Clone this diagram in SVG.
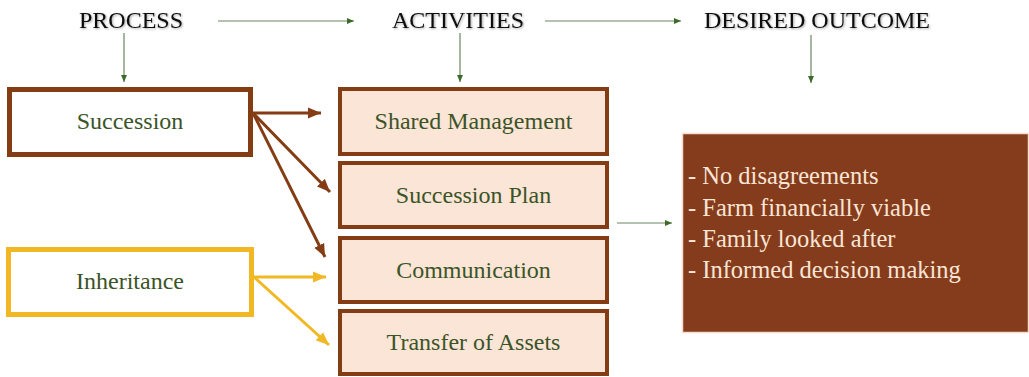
<svg xmlns="http://www.w3.org/2000/svg" width="1029" height="377" viewBox="0 0 1029 377">
<style>
.hdr{font-family:"Liberation Serif",serif;font-size:24px;fill:#111;text-anchor:middle}
.lbl{font-family:"Liberation Serif",serif;font-size:24px;fill:#3b5427;text-anchor:middle}
.out{font-family:"Liberation Serif",serif;font-size:24.5px;fill:#fbe5d6}
.proc{fill:#fff;stroke-width:5}
.act{fill:#fbe5d6;stroke:#843c14;stroke-width:4}
.g{stroke:#6d8560;stroke-width:1.2;fill:none}
.b{stroke:#843c14;stroke-width:3;fill:none}
.y{stroke:#f2b824;stroke-width:3;fill:none}
</style>
<defs>
<filter id="sh" x="-10%" y="-30%" width="120%" height="160%"><feDropShadow dx="1" dy="1" stdDeviation="1" flood-color="#000" flood-opacity="0.35"/></filter>
<marker id="mg" markerWidth="8" markerHeight="8" refX="7" refY="4" orient="auto" markerUnits="userSpaceOnUse"><path d="M0,1 L7,4 L0,7 Z" fill="#3d6b2a"/></marker>
<marker id="mb" markerWidth="14" markerHeight="12" refX="13" refY="6" orient="auto" markerUnits="userSpaceOnUse"><path d="M0,0.5 L13,6 L0,11.5 Z" fill="#843c14"/></marker>
<marker id="my" markerWidth="14" markerHeight="12" refX="13" refY="6" orient="auto" markerUnits="userSpaceOnUse"><path d="M0,0.5 L13,6 L0,11.5 Z" fill="#f2b824"/></marker>
</defs>
<g id="headers">
<text class="hdr" x="131" y="28" filter="url(#sh)">PROCESS</text>
<text class="hdr" x="458" y="28" filter="url(#sh)">ACTIVITIES</text>
<text class="hdr" x="817" y="28" filter="url(#sh)">DESIRED OUTCOME</text>
</g>
<g id="succession">
<rect class="proc" x="9.5" y="89.5" width="241" height="65" stroke="#843c14"/>
<text class="lbl" x="130" y="129">Succession</text>
</g>
<g id="inheritance">
<rect class="proc" x="8.5" y="249.5" width="243" height="65" stroke="#f2b824"/>
<text class="lbl" x="130" y="289">Inheritance</text>
</g>
<g id="shared-management">
<rect class="act" x="340" y="89" width="267" height="65"/>
<text class="lbl" x="473.5" y="129">Shared Management</text>
</g>
<g id="succession-plan">
<rect class="act" x="340" y="163" width="267" height="64"/>
<text class="lbl" x="473.5" y="203">Succession Plan</text>
</g>
<g id="communication">
<rect class="act" x="340" y="238" width="267" height="64"/>
<text class="lbl" x="473.5" y="278">Communication</text>
</g>
<g id="transfer-of-assets">
<rect class="act" x="340" y="311" width="267" height="63"/>
<text class="lbl" x="473.5" y="350">Transfer of Assets</text>
</g>
<g id="desired-outcome">
<rect x="682.5" y="133.5" width="346" height="199" fill="#843c1c" stroke="#f6dccb" stroke-width="1.5"/>
<text class="out" x="688" y="184">- No disagreements</text>
<text class="out" x="688" y="216">- Farm financially viable</text>
<text class="out" x="688" y="247">- Family looked after</text>
<text class="out" x="688" y="278">- Informed decision making</text>
</g>
<g id="connectors">
<line class="g" x1="218" y1="21" x2="354" y2="21" marker-end="url(#mg)"/>
<line class="g" x1="545" y1="21" x2="681" y2="21" marker-end="url(#mg)"/>
<line class="g" x1="124" y1="33" x2="124" y2="82" marker-end="url(#mg)"/>
<line class="g" x1="460" y1="33" x2="460" y2="82" marker-end="url(#mg)"/>
<line class="g" x1="811" y1="35" x2="811" y2="83" marker-end="url(#mg)"/>
<line class="g" x1="617" y1="223" x2="672" y2="223" marker-end="url(#mg)"/>
<line class="b" x1="253" y1="113" x2="321" y2="113" marker-end="url(#mb)"/>
<line class="b" x1="253" y1="113" x2="330" y2="192" marker-end="url(#mb)"/>
<line class="b" x1="253" y1="113" x2="325" y2="257" marker-end="url(#mb)"/>
<line class="y" x1="254" y1="277" x2="326" y2="277" marker-end="url(#my)"/>
<line class="y" x1="254" y1="277" x2="329" y2="345" marker-end="url(#my)"/>
</g>
</svg>
